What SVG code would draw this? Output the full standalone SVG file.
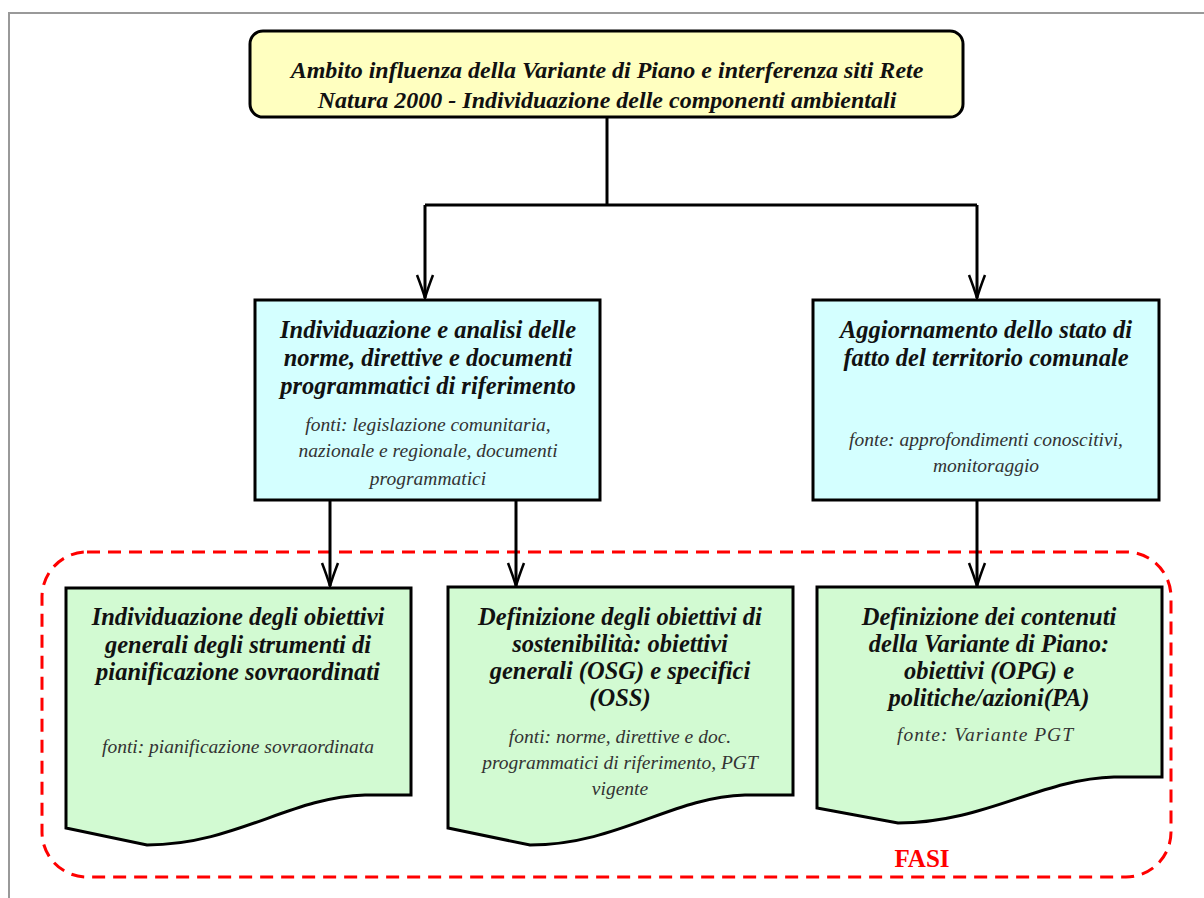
<svg xmlns="http://www.w3.org/2000/svg" width="1204" height="898" viewBox="0 0 1204 898">
<style>
.bg{fill:#ffffff}
.frame{fill:none;stroke:#999999;stroke-width:2}
.box{stroke:#000;stroke-width:3}
.yellow{fill:#ffffc0}
.cyan{fill:#d4ffff}
.green{fill:#d2fad2}
.t{font-family:"Liberation Serif","Times New Roman",serif;font-weight:bold;font-style:italic;fill:#111;text-anchor:middle}
.top{font-size:24px}
.h{font-size:24.5px}
.s{font-family:"Liberation Serif","Times New Roman",serif;font-style:italic;font-size:19.5px;fill:#333;text-anchor:middle}
.conn{fill:none;stroke:#000;stroke-width:3}
.fasi{fill:none;stroke:#ff0000;stroke-width:3;stroke-dasharray:13 8}
.fasitxt{font-family:"Liberation Serif","Times New Roman",serif;font-weight:bold;font-size:25px;fill:#ff0000;text-anchor:middle}
</style>
<defs>
<marker id="arr" markerUnits="userSpaceOnUse" markerWidth="28" markerHeight="22" viewBox="-2 -11 28 22" refX="23" refY="0" orient="auto">
<path d="M0,-8 Q13,-3 23,0 Q13,3 0,8" fill="none" stroke="#000" stroke-width="2.5"/>
</marker>
</defs>
<rect class="bg" x="0" y="0" width="1204" height="898"/>
<path class="frame" d="M9,898 V13 H1204"/>

<g id="fasi-group">
<rect class="fasi" x="42" y="552" width="1129" height="325" rx="45" ry="45"/>
<text class="fasitxt" x="922" y="867">FASI</text>
</g>

<g id="connectors">
<path class="conn" d="M607,117 V205"/>
<path class="conn" d="M425,205 H977"/>
<path class="conn" d="M425,205 V298" marker-end="url(#arr)"/>
<path class="conn" d="M977,205 V298" marker-end="url(#arr)"/>
<path class="conn" d="M330,500 V586" marker-end="url(#arr)"/>
<path class="conn" d="M516,500 V586" marker-end="url(#arr)"/>
<path class="conn" d="M977,500 V586" marker-end="url(#arr)"/>
</g>

<g id="node-ambito">
<rect class="box yellow" x="250" y="31" width="713" height="86" rx="13" ry="13"/>
<text class="t top" x="607" y="78">Ambito influenza della Variante di Piano e interferenza siti Rete</text>
<text class="t top" x="607" y="108">Natura 2000 - Individuazione delle componenti ambientali</text>
</g>

<g id="node-norme">
<rect class="box cyan" x="255" y="300" width="345" height="200"/>
<text class="t h" x="428" y="338">Individuazione e analisi delle</text>
<text class="t h" x="428" y="366">norme, direttive e documenti</text>
<text class="t h" x="428" y="394">programmatici di riferimento</text>
<text class="s" x="428" y="431">fonti: legislazione comunitaria,</text>
<text class="s" x="428" y="457">nazionale e regionale, documenti</text>
<text class="s" x="428" y="485">programmatici</text>
</g>

<g id="node-stato">
<rect class="box cyan" x="813" y="300" width="346" height="200"/>
<text class="t h" x="986" y="338">Aggiornamento dello stato di</text>
<text class="t h" x="986" y="366">fatto del territorio comunale</text>
<text class="s" x="986" y="446">fonte: approfondimenti conoscitivi,</text>
<text class="s" x="986" y="472">monitoraggio</text>
</g>

<g id="node-obiettivi-generali">
<path class="box green" d="M66,588 H411 V795 H365 C290,797 235,845 147,845 L66,828 Z"/>
<text class="t h" x="238" y="625">Individuazione degli obiettivi</text>
<text class="t h" x="238" y="653">generali degli strumenti di</text>
<text class="t h" x="238" y="680">pianificazione sovraordinati</text>
<text class="s" x="238" y="753" textLength="272" lengthAdjust="spacing">fonti: pianificazione sovraordinata</text>
</g>

<g id="node-sostenibilita">
<path class="box green" d="M448,587 H793 V795 H745 C672,797 617,845 530,845 L448,828 Z"/>
<text class="t h" x="620" y="625">Definizione degli obiettivi di</text>
<text class="t h" x="620" y="652">sostenibilità: obiettivi</text>
<text class="t h" x="620" y="679">generali (OSG) e specifici</text>
<text class="t h" x="620" y="706">(OSS)</text>
<text class="s" x="620" y="743">fonti: norme, direttive e doc.</text>
<text class="s" x="620" y="769">programmatici di riferimento, PGT</text>
<text class="s" x="620" y="795">vigente</text>
</g>

<g id="node-variante">
<path class="box green" d="M817,587 H1162 V777 H1114 C1040,779 985,823 898,823 L817,808 Z"/>
<text class="t h" x="989" y="625">Definizione dei contenuti</text>
<text class="t h" x="989" y="652">della Variante di Piano:</text>
<text class="t h" x="989" y="679">obiettivi (OPG) e</text>
<text class="t h" x="989" y="706">politiche/azioni(PA)</text>
<text class="s" x="985" y="741" textLength="176" lengthAdjust="spacing">fonte: Variante PGT</text>
</g>
</svg>
